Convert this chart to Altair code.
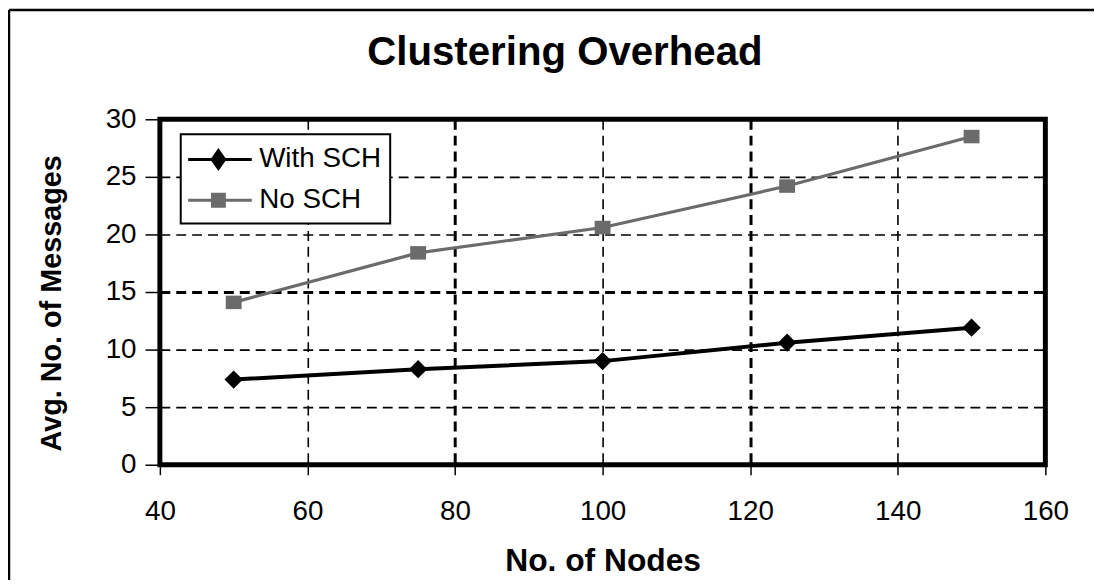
import altair as alt
import pandas as pd

# ---- data ----
nodes = [50, 75, 100, 125, 150]
with_sch = [7.4, 8.3, 9.0, 10.6, 11.9]
no_sch = [14.1, 18.4, 20.6, 24.2, 28.5]
series_names = ["With SCH", "No SCH"]
series_colors = ["#000000", "#6b6b6b"]
x_ticks = [40, 60, 80, 100, 120, 140, 160]
y_ticks = [0, 5, 10, 15, 20, 25, 30]

rows = []
for n, a, b in zip(nodes, with_sch, no_sch):
    rows.append({"nodes": n, "msgs": a, "series": series_names[0]})
    rows.append({"nodes": n, "msgs": b, "series": series_names[1]})
df = pd.DataFrame(rows)

FONT = "Liberation Sans"
W, H = 892, 348

# legend symbols: a line stub with the marker on it
leg_with = "M-1.2,0H3.07M0.83,-0.6L1.25,0L0.83,0.6L0.41,0Z"
leg_no = "M-1.2,0H3.07M0.43,-0.4H1.23V0.4H0.43Z"
rect_path = "M-1,-0.85H1V0.85H-1Z"

color_scale = alt.Scale(domain=series_names, range=series_colors)

legend = alt.Legend(
    orient="none", legendX=21, legendY=15, title=None,
    fillColor="white", strokeColor="black", padding=9,
    labelFont=FONT, labelFontSize=28, labelColor="black",
    labelOffset=37, rowPadding=9, symbolSize=900, symbolStrokeWidth=3,
    symbolOpacity=1,
)

x_enc = alt.X(
    "nodes:Q",
    scale=alt.Scale(domain=[40, 160], nice=False, zero=False),
    axis=alt.Axis(
        values=x_ticks, title="No. of Nodes", grid=True, gridColor="black",
        gridDash=[10, 6], gridOpacity=1,
        gridWidth={"condition": {"test": "datum.value === 80 || datum.value === 120", "value": 3}, "value": 1.6},
        domain=False, tickColor="black", tickSize=10, tickWidth=1.5,
        labelFont=FONT, labelFontSize=28, labelColor="black", labelPadding=23,
        labelFlush=False, labelOverlap=False,
        titleFont=FONT, titleFontSize=32, titleFontWeight="bold", titleColor="black",
        titleY=107, titleBaseline="alphabetic",
    ),
)
y_enc = alt.Y(
    "msgs:Q",
    scale=alt.Scale(domain=[0, 30], nice=False),
    axis=alt.Axis(
        values=y_ticks, title="Avg. No. of Messages", grid=True, gridColor="black",
        gridDash=[10, 6], gridOpacity=1,
        gridWidth={"condition": {"test": "datum.value === 15", "value": 3}, "value": 1.6},
        domain=False, tickColor="black", tickSize=15, tickWidth=1.5,
        labelFont=FONT, labelFontSize=28, labelColor="black", labelPadding=9,
        labelOverlap=False,
        titleFont=FONT, titleFontSize=29, titleFontWeight="bold", titleColor="black",
        titleX=-100, titleY=185, titleBaseline="alphabetic",
    ),
)

base = alt.Chart(df)
f_with = base.transform_filter(alt.datum.series == series_names[0])
f_no = base.transform_filter(alt.datum.series == series_names[1])

line_with = f_with.mark_line(color=series_colors[0], strokeWidth=4).encode(x=x_enc, y=y_enc)
line_no = f_no.mark_line(color=series_colors[1], strokeWidth=3.2).encode(x=x_enc, y=y_enc)

pts_with = f_with.mark_point(
    filled=True, size=340, opacity=1, shape="diamond", color=series_colors[0]
).encode(x=x_enc, y=y_enc)
pts_no = f_no.mark_point(
    filled=True, size=256, opacity=1, shape=rect_path, color=series_colors[1]
).encode(x=x_enc, y=y_enc)

# invisible layer that only carries the legend (line + marker symbols)
legend_layer = base.mark_point(filled=True, opacity=0).encode(
    x=x_enc, y=y_enc,
    fill=alt.Fill("series:N", scale=color_scale, legend=legend),
    stroke=alt.Stroke("series:N", scale=color_scale, legend=legend),
    shape=alt.Shape("series:N", scale=alt.Scale(domain=series_names, range=[leg_with, leg_no]), legend=legend),
)

frame_df = pd.DataFrame({"k": [0]})
outer_top = alt.Chart(frame_df).mark_rule(color="black", strokeWidth=2.5).encode(
    x=alt.value(-152), x2=alt.value(W + 300), y=alt.value(-110))
outer_left = alt.Chart(frame_df).mark_rule(color="black", strokeWidth=2.5).encode(
    x=alt.value(-152), y=alt.value(-110), y2=alt.value(H + 300))

chart = alt.layer(outer_top, outer_left, line_with, line_no, pts_with, pts_no, legend_layer).properties(
    width=W, height=H, background="white",
    title=alt.TitleParams("Clustering Overhead", font=FONT, fontSize=40.5, fontWeight="bold",
                          color="black", anchor="middle", dx=-38, baseline="alphabetic", offset=-97),
    autosize=alt.AutoSizeParams(type="none"),
    padding={"left": 153, "top": 110, "right": 49, "bottom": 114},
).configure_view(stroke="black", strokeWidth=5).configure_legend(strokeWidth=2)

chart.save("out.html", embed_options={"renderer": "svg", "actions": False})
